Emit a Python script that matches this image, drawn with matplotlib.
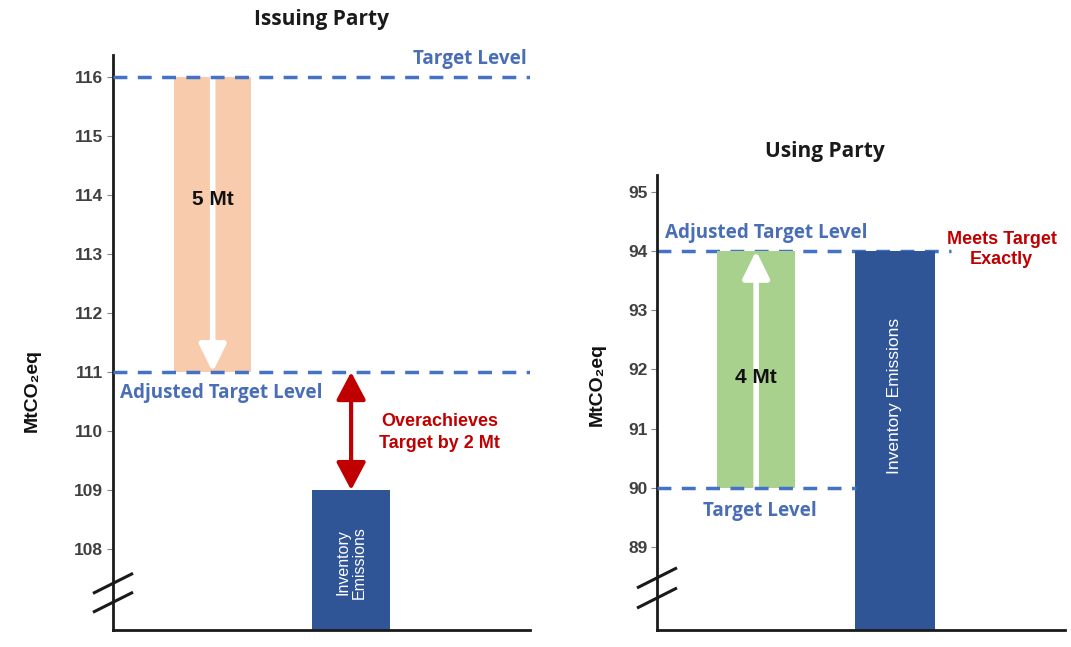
import matplotlib.pyplot as plt

# Issuing party (MtCO2eq)
issuing_target = 116
issuing_adjusted = 111
issuing_inventory = 109
issuing_transfer = 5

# Using party (MtCO2eq)
using_target = 90
using_adjusted = 94
using_inventory = 94
using_transfer = 4

issuing_ticks = [108, 109, 110, 111, 112, 113, 114, 115, 116]
using_ticks = [89, 90, 91, 92, 93, 94, 95]

PEACH = "#F8CBAD"
GREEN = "#A9D18E"
NAVY = "#2F5597"
DASH = "#4472C4"
LABEL_BLUE = "#4A6EB5"
RED = "#C00000"
NARROW = ["Liberation Sans Narrow", "Liberation Sans", "DejaVu Sans"]
CAL = ["Open Sans", "Lato", "DejaVu Sans"]

fig = plt.figure(figsize=(10.71, 6.47), dpi=100)
ax1 = fig.add_axes([113 / 1071, 1 - 630 / 647, 417 / 1071, 575 / 647])
ax2 = fig.add_axes([657 / 1071, 1 - 630 / 647, 408 / 1071, 455 / 647])


def style_axis(ax, ticks, ylim):
    ax.set_xlim(0, 10)
    ax.set_ylim(*ylim)
    for s in ("top", "right"):
        ax.spines[s].set_visible(False)
    for s in ("left", "bottom"):
        ax.spines[s].set_linewidth(2)
        ax.spines[s].set_color("#1a1a1a")
    ax.set_xticks([])
    ax.set_yticks(ticks)
    ax.tick_params(axis="y", length=4, width=0.8, color="#888888", pad=3)
    for lab in ax.get_yticklabels():
        lab.set_family(NARROW)
        lab.set_fontsize(12.5)
        lab.set_color("#404040")
        lab.set_fontweight("bold")


def break_marks(ax, ys, dx, dy):
    for y in ys:
        ax.plot([-dx, dx], [y - dy, y + dy], color="#1a1a1a", lw=2.2,
                clip_on=False, solid_capstyle="butt", zorder=5)


def white_arrow(ax, x, y0, y1):
    ax.annotate("", xy=(x, y1), xytext=(x, y0),
                arrowprops=dict(arrowstyle="-|>,head_length=0.75,head_width=0.37",
                                color="white", lw=4, mutation_scale=22,
                                shrinkA=0, shrinkB=0), zorder=3)


# ---- Issuing Party ----
style_axis(ax1, issuing_ticks, (106.63, 116.37))
ax1.bar(2.39, issuing_target - issuing_adjusted, bottom=issuing_adjusted,
        width=1.86, color=PEACH, zorder=2)
white_arrow(ax1, 2.39, issuing_target, issuing_adjusted)
ax1.bar(5.71, issuing_inventory - ax1.get_ylim()[0], bottom=ax1.get_ylim()[0],
        width=1.87, color=NAVY, zorder=2)
ax1.axhline(issuing_target, color=DASH, lw=2.5, ls=(0, (4, 3)), zorder=4)
ax1.axhline(issuing_adjusted, color=DASH, lw=2.5, ls=(0, (4, 3)), zorder=4)
ax1.annotate("", xy=(5.71, issuing_adjusted), xytext=(5.71, issuing_inventory),
             arrowprops=dict(arrowstyle="<|-|>,head_length=0.85,head_width=0.45",
                             color=RED, lw=3, mutation_scale=20,
                             shrinkA=0, shrinkB=0), zorder=4)
ax1.text(2.39, 113.92, f"{issuing_transfer} Mt", ha="center", va="center",
         fontsize=15, fontweight="bold", family=NARROW, color="#111111", zorder=5)
ax1.text(9.93, issuing_target + 0.3, "Target Level", ha="right", va="center",
         fontsize=13.6, fontweight="bold", family=CAL, color=LABEL_BLUE)
ax1.text(0.17, issuing_adjusted - 0.36, "Adjusted Target Level", ha="left",
         va="center", fontsize=13.6, fontweight="bold", family=CAL, color=LABEL_BLUE)
ax1.text(7.84, 109.98,
         f"Overachieves\nTarget by {issuing_adjusted - issuing_inventory} Mt",
         ha="center", va="center", fontsize=13, fontweight="bold", family=NARROW,
         color=RED, linespacing=1.35)
ax1.text(5.71, 107.78, "Inventory\nEmissions", rotation=90, ha="center",
         va="center", fontsize=11.5, family=NARROW, color="white", linespacing=1.1)
break_marks(ax1, [107.42, 107.10], 0.48, 0.17)

# ---- Using Party ----
style_axis(ax2, using_ticks, (87.6, 95.28))
ax2.bar(2.43, using_adjusted - using_target, bottom=using_target,
        width=1.9, color=GREEN, zorder=2)
white_arrow(ax2, 2.43, using_target, using_adjusted)
ax2.bar(5.83, using_inventory - ax2.get_ylim()[0], bottom=ax2.get_ylim()[0],
        width=1.95, color=NAVY, zorder=2)
ax2.plot([0, 7.2], [using_adjusted] * 2, color=DASH, lw=2.5, ls=(0, (4, 3)), zorder=1)
ax2.plot([0, 4.88], [using_target] * 2, color=DASH, lw=2.5, ls=(0, (4, 3)), zorder=4)
ax2.text(2.43, 91.86, f"{using_transfer} Mt", ha="center", va="center",
         fontsize=15, fontweight="bold", family=NARROW, color="#111111", zorder=5)
ax2.text(0.2, using_adjusted + 0.3, "Adjusted Target Level", ha="left",
         va="center", fontsize=13.6, fontweight="bold", family=CAL, color=LABEL_BLUE)
ax2.text(2.52, using_target - 0.39, "Target Level", ha="center", va="center",
         fontsize=13.6, fontweight="bold", family=CAL, color=LABEL_BLUE)
ax2.text(8.45, using_adjusted + 0.02, "Meets Target\nExactly", ha="center",
         va="center", fontsize=13, fontweight="bold", family=NARROW, color=RED,
         linespacing=1.2)
ax2.text(5.83, 91.55, "Inventory Emissions", rotation=90, ha="center",
         va="center", fontsize=12.5, family=NARROW, color="white")
break_marks(ax2, [88.48, 88.14], 0.49, 0.17)

# titles and axis labels
fig.text(321 / 1071, 1 - 20 / 647, "Issuing Party", ha="center", va="center",
         fontsize=15, fontweight="bold", family=CAL, color="#1a1a1a")
fig.text(825 / 1071, 1 - 152 / 647, "Using Party", ha="center", va="center",
         fontsize=15, fontweight="bold", family=CAL, color="#1a1a1a")
for x, y in ((32, 390), (597, 385)):
    fig.text(x / 1071, 1 - y / 647, "MtCO\u2082eq", rotation=90, ha="center",
             va="center", fontsize=14, fontweight="bold", family=NARROW,
             color="#111111")

fig.savefig("out.png", dpi=100)
